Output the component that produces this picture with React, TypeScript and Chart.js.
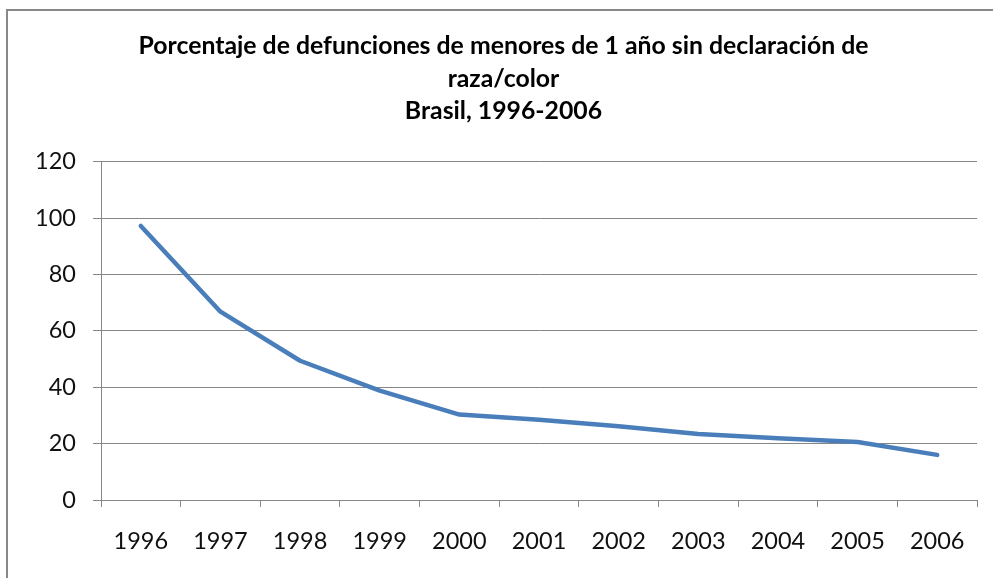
import React, { useEffect, useRef } from "react";
import { Chart, registerables } from "chart.js";

Chart.register(...registerables);

const titleLines = [
  "Porcentaje de defunciones de menores de 1 año sin declaración de",
  "raza/color",
  "Brasil, 1996-2006",
];
const years = ["1996", "1997", "1998", "1999", "2000", "2001", "2002", "2003", "2004", "2005", "2006"];
const percentSinRaza = [97.2, 66.8, 49.4, 38.8, 30.3, 28.5, 26.2, 23.4, 21.9, 20.6, 16.0];
const yMin = 0;
const yMax = 120;
const yStep = 20;

const GRID = "#868686";
const LINE = "#4A7EBB";
const FONT = "Lato, 'Open Sans', sans-serif";

export default function App() {
  const ref = useRef<HTMLCanvasElement | null>(null);

  useEffect(() => {
    if (!ref.current) return;
    const chart = new Chart(ref.current, {
      type: "line",
      data: {
        labels: years,
        datasets: [
          {
            label: "Sin declaración",
            data: percentSinRaza,
            borderColor: LINE,
            backgroundColor: LINE,
            borderWidth: 4.5,
            pointRadius: 0,
            tension: 0,
            borderCapStyle: "round",
            borderJoinStyle: "round",
          },
        ],
      },
      options: {
        responsive: false,
        animation: false,
        devicePixelRatio: 1,
        layout: { padding: { left: 30, right: 16, top: 0, bottom: 0 } },
        plugins: {
          legend: { display: false },
          tooltip: { enabled: false },
          title: {
            display: true,
            text: titleLines,
            color: "#000",
            font: { family: FONT, size: 24.8, weight: "bold", lineHeight: "32.5px" },
            padding: { top: 30, bottom: 34.2 },
          },
        },
        scales: {
          x: {
            type: "category",
            offset: true,
            grid: {
              display: true,
              offset: true,
              drawOnChartArea: false,
              drawTicks: true,
              tickLength: 7,
              color: GRID,
              lineWidth: 1,
            },
            border: { display: true, color: GRID, width: 1 },
            ticks: {
              color: "#111",
              font: { family: FONT, size: 23.5 },
              padding: 20,
              maxRotation: 0,
              autoSkip: false,
            },
            afterFit: (s: any) => {
              s.height = 78;
            },
          },
          y: {
            min: yMin,
            max: yMax,
            grid: {
              color: GRID,
              lineWidth: 1,
              drawTicks: true,
              tickLength: 8,
            },
            border: { display: true, color: GRID, width: 1 },
            ticks: {
              stepSize: yStep,
              color: "#111",
              font: { family: FONT, size: 23.5 },
              padding: 17,
            },
            afterFit: (s: any) => {
              s.width = 71;
            },
          },
        },
      },
    });
    return () => chart.destroy();
  }, []);

  return (
    <div
      style={{
        position: "fixed",
        left: 0,
        top: 0,
        width: 993,
        height: 578,
        overflow: "hidden",
        background: "#fff",
      }}
    >
      <canvas ref={ref} width={993} height={578} style={{ position: "absolute", left: 0, top: 0 }} />
      <div
        style={{
          position: "absolute",
          left: 6,
          top: 9,
          width: 1100,
          height: 700,
          borderLeft: "2px solid #888",
          borderTop: "2px solid #888",
          pointerEvents: "none",
        }}
      />
    </div>
  );
}
